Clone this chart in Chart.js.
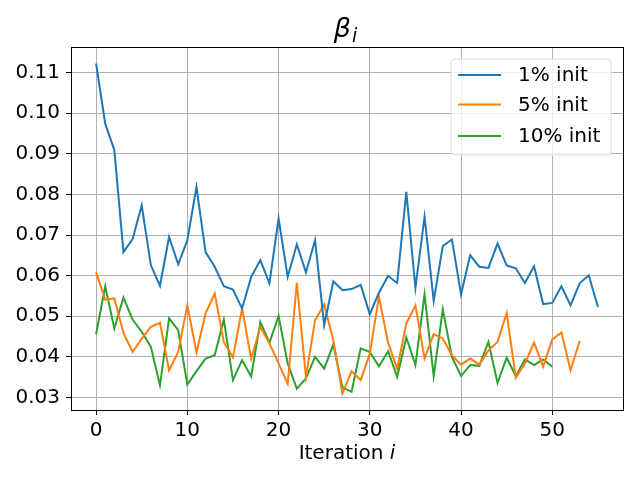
<!DOCTYPE html>
<html>
<head>
<meta charset="utf-8">
<script src="https://cdn.jsdelivr.net/npm/chart.js@4/dist/chart.umd.min.js"></script>
<style>
  html, body { margin: 0; padding: 0; background: #fff; }
  #wrap { width: 640px; height: 480px; }
</style>
</head>
<body>
<div id="wrap"><canvas id="betaChart" width="640" height="480"></canvas></div>
<script>
// values
const seriesLabels = ['1% init', '5% init', '10% init'];
const seriesColors = ['#1f77b4', '#ff7f0e', '#2ca02c'];

const init1 = [
    0.1122, 0.0974, 0.0909, 0.0658, 0.0690, 0.0773, 0.0626, 0.0575, 0.0695, 0.0628,
    0.0687, 0.0818, 0.0658, 0.0622, 0.0574, 0.0566, 0.0519, 0.0597, 0.0638, 0.0581,
    0.0741, 0.0597, 0.0677, 0.0608, 0.0687, 0.0478, 0.0586, 0.0564, 0.0567, 0.0577,
    0.0505, 0.0558, 0.0599, 0.0582, 0.0806, 0.0570, 0.0745, 0.0538, 0.0673, 0.0689,
    0.0554, 0.0650, 0.0622, 0.0619, 0.0679, 0.0625, 0.0618, 0.0582, 0.0623, 0.0530,
    0.0533, 0.0574, 0.0527, 0.0581, 0.0601, 0.0523
];
const init5 = [
    0.0608, 0.0541, 0.0544, 0.0459, 0.0412, 0.0445, 0.0474, 0.0484, 0.0367, 0.0412,
    0.0527, 0.0411, 0.0507, 0.0556, 0.0437, 0.0399, 0.0519, 0.0395, 0.0474, 0.0433,
    0.0384, 0.0334, 0.0582, 0.0351, 0.0490, 0.0529, 0.0441, 0.0310, 0.0365, 0.0343,
    0.0408, 0.0548, 0.0435, 0.0371, 0.0482, 0.0527, 0.0396, 0.0456, 0.0445, 0.0404,
    0.0381, 0.0396, 0.0381, 0.0416, 0.0437, 0.0508, 0.0349, 0.0384, 0.0435, 0.0376,
    0.0443, 0.0460, 0.0367, 0.0439
];
const init10 = [
    0.0456, 0.0574, 0.0470, 0.0546, 0.0492, 0.0462, 0.0425, 0.0330, 0.0495, 0.0466,
    0.0332, 0.0365, 0.0396, 0.0404, 0.0492, 0.0343, 0.0392, 0.0352, 0.0486, 0.0435,
    0.0501, 0.0384, 0.0322, 0.0347, 0.0400, 0.0371, 0.0431, 0.0325, 0.0314, 0.0421,
    0.0412, 0.0377, 0.0414, 0.0351, 0.0448, 0.0380, 0.0554, 0.0353, 0.0517, 0.0400,
    0.0353, 0.0380, 0.0378, 0.0437, 0.0336, 0.0398, 0.0353, 0.0394, 0.0380, 0.0394,
    0.0376
];
const xTicks = [0, 10, 20, 30, 40, 50];
const yTicks = [0.03, 0.04, 0.05, 0.06, 0.07, 0.08, 0.09, 0.10, 0.11];

const FONT = '"DejaVu Sans", sans-serif';

function toPoints(values) {
    // x = iteration index
    return values.map((v, i) => ({ x: i, y: v }));
}

// title, axis label, frame and legend drawn like matplotlib
const decorPlugin = {
    id: 'decor',
    afterDatasetsDraw(chart) {
        const { ctx, chartArea: a } = chart;
        ctx.save();

        // frame
        ctx.strokeStyle = '#000';
        ctx.lineWidth = 1;
        ctx.strokeRect(Math.round(a.left) + 0.5, Math.round(a.top) + 0.5,
            Math.round(a.right - a.left), Math.round(a.bottom - a.top));

        // legend
        const lx = 451, ly = 59, lw = 160, lh = 96, r = 4;
        ctx.beginPath();
        ctx.moveTo(lx + r, ly);
        ctx.arcTo(lx + lw, ly, lx + lw, ly + lh, r);
        ctx.arcTo(lx + lw, ly + lh, lx, ly + lh, r);
        ctx.arcTo(lx, ly + lh, lx, ly, r);
        ctx.arcTo(lx, ly, lx + lw, ly, r);
        ctx.closePath();
        ctx.fillStyle = 'rgba(255,255,255,0.8)';
        ctx.fill();
        ctx.strokeStyle = '#d9d9d9';
        ctx.stroke();

        const rows = [75, 104.5, 136];
        chart.data.datasets.forEach((ds, i) => {
            ctx.strokeStyle = ds.borderColor;
            ctx.lineWidth = 2;
            ctx.beginPath();
            ctx.moveTo(458, rows[i]);
            ctx.lineTo(501, rows[i]);
            ctx.stroke();
            ctx.fillStyle = '#000';
            ctx.font = '20px ' + FONT;
            ctx.textAlign = 'left';
            ctx.textBaseline = 'middle';
            ctx.fillText(ds.label, 518, rows[i] + 1);
        });

        // title: beta_i
        const cx = (a.left + a.right) / 2;
        ctx.fillStyle = '#000';
        ctx.textBaseline = 'alphabetic';
        ctx.font = 'italic 27px ' + FONT;
        ctx.textAlign = 'right';
        ctx.fillText('β', cx + 4, 37);
        ctx.font = 'italic 19px ' + FONT;
        ctx.textAlign = 'left';
        ctx.fillText('i', cx + 5, 42);

        // x label: Iteration i
        ctx.font = '20px ' + FONT;
        const t1 = 'Iteration ';
        ctx.font = 'italic 20px ' + FONT;
        const wi = ctx.measureText('i').width;
        ctx.font = '20px ' + FONT;
        const w1 = ctx.measureText(t1).width;
        const sx = cx - (w1 + wi) / 2;
        ctx.textAlign = 'left';
        ctx.fillText(t1, sx, 459);
        ctx.font = 'italic 20px ' + FONT;
        ctx.fillText('i', sx + w1, 459);

        ctx.restore();
    }
};

new Chart(document.getElementById('betaChart'), {
    type: 'line',
    data: {
        datasets: [init1, init5, init10].map((vals, i) => ({
            label: seriesLabels[i],
            data: toPoints(vals),
            borderColor: seriesColors[i],
            backgroundColor: seriesColors[i],
            borderWidth: 2,
            pointRadius: 0,
            tension: 0,
            fill: false
        }))
    },
    options: {
        responsive: false,
        animation: false,
        devicePixelRatio: 1,
        layout: { padding: { left: 0, top: 47, right: 17, bottom: 0 } },
        scales: {
            x: {
                type: 'linear',
                min: -2.75,
                max: 57.75,
                afterFit(scale) { scale.height = 70; },
                afterBuildTicks(scale) { scale.ticks = xTicks.map(v => ({ value: v })); },
                ticks: {
                    includeBounds: false,
                    padding: 4,
                    color: '#000',
                    font: { family: FONT, size: 20 },
                    maxRotation: 0,
                    callback: v => String(v)
                },
                grid: {
                    color: '#b0b0b0',
                    lineWidth: 1,
                    tickLength: 5,
                    tickColor: '#000'
                },
                border: { display: false }
            },
            y: {
                type: 'linear',
                min: 0.02694,
                max: 0.11626,
                afterFit(scale) { scale.width = 71; },
                afterBuildTicks(scale) { scale.ticks = yTicks.map(v => ({ value: v })); },
                ticks: {
                    includeBounds: false,
                    padding: 6,
                    color: '#000',
                    font: { family: FONT, size: 20 },
                    callback: v => Number(v).toFixed(2)
                },
                grid: {
                    color: '#b0b0b0',
                    lineWidth: 1,
                    tickLength: 5,
                    tickColor: '#000'
                },
                border: { display: false }
            }
        },
        plugins: {
            legend: { display: false },
            title: { display: false },
            tooltip: { enabled: false }
        }
    },
    plugins: [decorPlugin]
});
</script>
</body>
</html>
